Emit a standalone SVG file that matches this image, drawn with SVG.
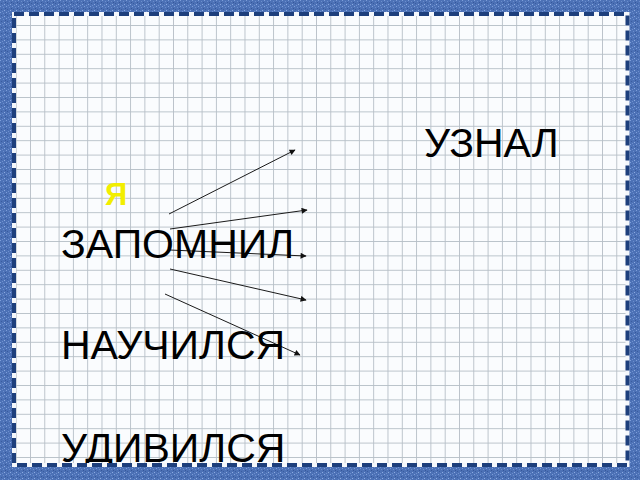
<svg xmlns="http://www.w3.org/2000/svg" width="640" height="480" viewBox="0 0 640 480">
  <defs>
    <style>
      .word { font-family: "Liberation Sans", Arial, sans-serif; font-size: 41px; fill: #000000; }
      .me { font-family: "Liberation Sans", Arial, sans-serif; font-size: 31px; font-weight: bold; fill: #F2EE00; }
      .conn { stroke: #1A1A1A; stroke-width: 1; fill: none; marker-end: url(#arrow); }
    </style>
    <marker id="arrow" viewBox="0 0 10 10" refX="9" refY="5" markerWidth="9" markerHeight="6" markerUnits="userSpaceOnUse" orient="auto">
      <path d="M0 0L10 5L0 10Z" fill="#111111"/>
    </marker>
    <pattern id="grid" patternUnits="userSpaceOnUse" x="1.4" y="-3.8" width="14.3" height="14.4">
      <rect x="0" y="0" width="14.3" height="14.4" fill="#FAFCFE"/>
      <rect x="-0.7" y="0" width="1.6" height="14.4" fill="#B6BFC7"/>
      <rect x="0" y="-0.7" width="14.3" height="1.6" fill="#B6BFC7"/>
    </pattern>
    <pattern id="cloth" patternUnits="userSpaceOnUse" width="6" height="6">
      <rect width="6" height="6" fill="#4C71B6"/>
      <rect x="0" y="0" width="1" height="1" fill="#7E9FDA"/>
      <rect x="3" y="1" width="1" height="1" fill="#6B8DCC"/>
      <rect x="1" y="3" width="1" height="1" fill="#3A5C9E"/>
      <rect x="4" y="4" width="1" height="1" fill="#8CAAE0"/>
      <rect x="5" y="2" width="1" height="1" fill="#36579A"/>
      <rect x="2" y="5" width="1" height="1" fill="#6E90CE"/>
    </pattern>
  </defs>

  <rect id="paper" x="0" y="0" width="640" height="480" fill="url(#grid)"/>

  <g id="connectors">
    <line class="conn" x1="169" y1="214" x2="295" y2="150"/>
    <line class="conn" x1="170" y1="229" x2="307" y2="210"/>
    <line class="conn" x1="170" y1="250" x2="306" y2="256"/>
    <line class="conn" x1="170" y1="269" x2="306" y2="300"/>
    <line class="conn" x1="165" y1="294" x2="300" y2="355"/>
  </g>

  <g id="node-uznal"><text class="word" x="424" y="157">УЗНАЛ</text></g>
  <g id="node-ya"><text class="me" x="105" y="205">Я</text></g>
  <g id="node-zapomnil"><text class="word" x="61" y="258">ЗАПОМНИЛ</text></g>
  <g id="node-nauchilsya"><text class="word" x="61" y="359">НАУЧИЛСЯ</text></g>
  <g id="node-udivilsya"><text class="word" x="61" y="462">УДИВИЛСЯ</text></g>

  <g id="frame">
    <path d="M0 0H640V480H0Z M16 16V463H626V16Z" fill="url(#cloth)" fill-rule="evenodd"/>
    <rect x="14" y="14" width="613.5" height="451" fill="none" stroke="#F4F7FB" stroke-width="4"/>
    <rect x="14" y="14" width="613.5" height="451" fill="none" stroke="#1D3F7C" stroke-width="4" stroke-dasharray="10 5"/>
  </g>
</svg>
